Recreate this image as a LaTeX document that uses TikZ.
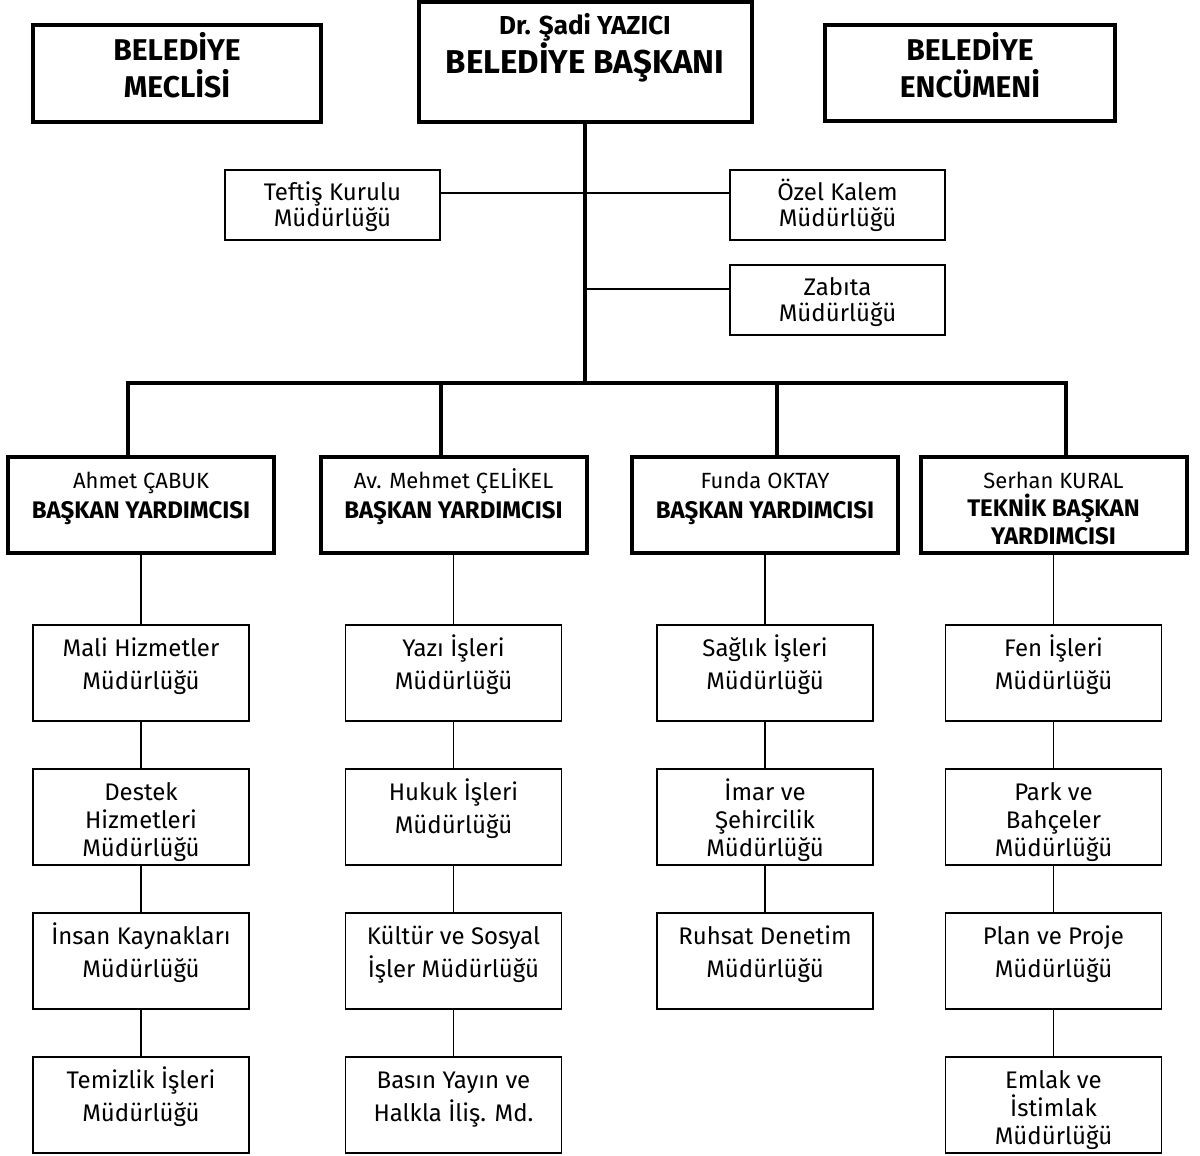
\documentclass[tikz,border=0pt]{standalone}
\usepackage{fontspec}
\setmainfont{Fira Sans}
\usetikzlibrary{positioning}
\newcommand{\unittext}[4]{\begin{minipage}[c][#2][t]{#1}\centering\rule{0pt}{#3}#4\end{minipage}}
\newcommand{\mud}[1]{\unittext{216pt}{96pt}{31pt}{#1}}
\newcommand{\vptext}[1]{\unittext{266pt}{96pt}{31pt}{#1}}
\newcommand{\vpname}[1]{{\mdseries\fontsize{22}{26}\selectfont #1}}
\tikzset{
	x=1pt, y=-1pt,
	every node/.style={inner sep=0pt, outer sep=0pt},
	head/.style={draw, line width=4pt, font=\bfseries\fontsize{30}{37}\selectfont},
	vp/.style={draw, line width=4pt, font=\bfseries\fontsize{24}{30}\selectfont},
	staff/.style={draw, line width=1.8pt, font=\fontsize{24}{26}\selectfont},
	dept/.style={draw, line width=1.8pt, font=\fontsize{24}{33}\selectfont},
	dept3/.style={dept, font=\fontsize{24}{28}\selectfont},
	trunk/.style={line width=4pt, line join=miter},
	link/.style={line width=1.8pt}
}

\begin{document}
\begin{tikzpicture}
	\useasboundingbox (0,0) rectangle (1200,1156);
	\node[head] (meclis) at (177,73.5) {\unittext{288pt}{97pt}{36pt}{BELEDİYE\\MECLİSİ}};
	\node[head] (baskan) at (585,62) {\unittext{333pt}{120pt}{33pt}{{\fontsize{26}{28}\selectfont Dr. Şadi YAZICI}\\{\fontsize{33}{41}\selectfont BELEDİYE BAŞKANI}}};
	\node[head] (encumen) at (970,73) {\unittext{290pt}{96pt}{36pt}{BELEDİYE\\ENCÜMENİ}};
	
	\node[staff] (teftis) at (332.5,205) {\unittext{215pt}{70pt}{30pt}{Teftiş Kurulu\\Müdürlüğü}};
	\node[staff] (ozel) at (837.5,205) {\unittext{215pt}{70pt}{30pt}{Özel Kalem\\Müdürlüğü}};
	\node[staff] (zabita) at (837.5,300) {\unittext{215pt}{70pt}{30pt}{Zabıta\\Müdürlüğü}};
	
	\node[vp] (vp1) at (141,505) {\vptext{\vpname{Ahmet ÇABUK}\\BAŞKAN YARDIMCISI}};
	\node[vp] (vp2) at (453.5,505) {\vptext{\vpname{Av. Mehmet ÇELİKEL}\\BAŞKAN YARDIMCISI}};
	\node[vp] (vp3) at (765,505) {\vptext{\vpname{Funda OKTAY}\\BAŞKAN YARDIMCISI}};
	\node[vp, font=\bfseries\fontsize{24}{28}\selectfont] (vp4) at (1053.5,505) {\vptext{\vpname{Serhan KURAL}\\TEKNİK BAŞKAN\\YARDIMCISI}};
	
	\node[dept] (m11) at (141,673) {\mud{Mali Hizmetler\\Müdürlüğü}};
	\node[dept3] (m12) at (141,817) {\mud{Destek\\Hizmetleri\\Müdürlüğü}};
	\node[dept] (m13) at (141,961) {\mud{İnsan Kaynakları\\Müdürlüğü}};
	\node[dept] (m14) at (141,1105) {\mud{Temizlik İşleri\\Müdürlüğü}};
	
	\node[dept] (m21) at (453.5,673) {\mud{Yazı İşleri\\Müdürlüğü}};
	\node[dept] (m22) at (453.5,817) {\mud{Hukuk İşleri\\Müdürlüğü}};
	\node[dept] (m23) at (453.5,961) {\mud{Kültür ve Sosyal\\İşler Müdürlüğü}};
	\node[dept] (m24) at (453.5,1105) {\mud{Basın Yayın ve\\Halkla İliş. Md.}};
	
	\node[dept] (m31) at (765,673) {\mud{Sağlık İşleri\\Müdürlüğü}};
	\node[dept3] (m32) at (765,817) {\mud{İmar ve\\Şehircilik\\Müdürlüğü}};
	\node[dept] (m33) at (765,961) {\mud{Ruhsat Denetim\\Müdürlüğü}};
	
	\node[dept] (m41) at (1053.5,673) {\mud{Fen İşleri\\Müdürlüğü}};
	\node[dept3] (m42) at (1053.5,817) {\mud{Park ve\\Bahçeler\\Müdürlüğü}};
	\node[dept] (m43) at (1053.5,961) {\mud{Plan ve Proje\\Müdürlüğü}};
	\node[dept3] (m44) at (1053.5,1105) {\mud{Emlak ve\\İstimlak\\Müdürlüğü}};
	
	\coordinate (bus1) at (128,383);
	\coordinate (bus2) at (441,383);
	\coordinate (bus3) at (777,383);
	\coordinate (bus4) at (1066,383);
	\draw[trunk] (baskan) -- (baskan |- bus1);
	\draw[trunk] (bus1 |- vp1.north) -- (bus1) -- (bus4) -- (bus4 |- vp4.north);
	\draw[trunk] (bus2) -- (bus2 |- vp2.north);
	\draw[trunk] (bus3) -- (bus3 |- vp3.north);
	
	\draw[link] ([yshift=12pt]teftis.east) -- ([yshift=12pt]ozel.west);
	\draw[link] ([yshift=11pt]zabita.west) -- ([yshift=11pt]zabita.west -| baskan.south);
	
	\draw[link]
	(vp1) edge (m11) (m11) edge (m12) (m12) edge (m13) (m13) edge (m14)
	(vp2) edge (m21) (m21) edge (m22) (m22) edge (m23) (m23) edge (m24)
	(vp3) edge (m31) (m31) edge (m32) (m32) edge (m33)
	(vp4) edge (m41) (m41) edge (m42) (m42) edge (m43) (m43) edge (m44)
	;
\end{tikzpicture}
\end{document}
